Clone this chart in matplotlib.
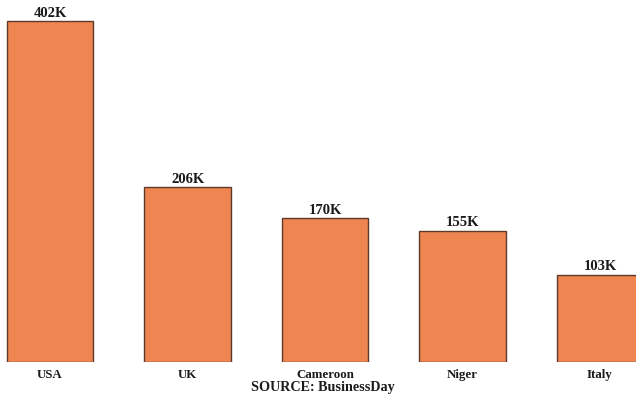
import matplotlib.pyplot as plt

# Data (thousands)
countries = ["USA", "UK", "Cameroon", "Niger", "Italy"]
values = [402, 206, 170, 155, 103]
value_labels = ["402K", "206K", "170K", "155K", "103K"]

plt.rcParams["font.family"] = ["Liberation Serif", "DejaVu Serif"]

fig = plt.figure(figsize=(6.36, 3.99), dpi=100)
ax = fig.add_axes([0, 37 / 399, 1, 362 / 399])

x = list(range(len(countries)))
bars = ax.bar(x, values, width=0.632, color="#EF8550", edgecolor="#5E3A28", linewidth=1.0)

# value labels above bars
for b, lab in zip(bars, value_labels):
    ax.text(b.get_x() + b.get_width() / 2, b.get_height() + 1.5, lab,
            ha="center", va="bottom", fontsize=10.5, fontweight="bold", color="#1a1a1a")

ax.set_xlim(-50 / 137.5, 4 + 36 / 137.5)
ax.set_ylim(0, 362 / 0.848)
ax.set_xticks(x)
ax.set_xticklabels(countries, fontsize=9.3, fontweight="bold", color="#1a1a1a")
ax.tick_params(axis="x", length=0, pad=5)
ax.set_yticks([])
for s in ax.spines.values():
    s.set_visible(False)

fig.text(323 / 636, 1 - 387 / 399, "SOURCE: BusinessDay", ha="center", va="center",
         fontsize=10.2, fontweight="bold", color="#1a1a1a")

fig.savefig("out.png", dpi=100)
